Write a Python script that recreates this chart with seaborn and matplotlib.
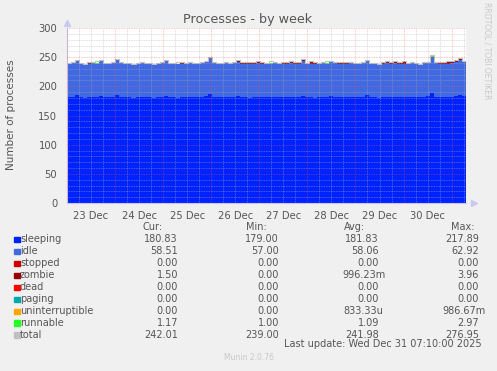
import numpy as np
import matplotlib
matplotlib.use("Agg")
import matplotlib.pyplot as plt
from matplotlib.patches import Rectangle
import seaborn as sns

# munin processes graph, one sample every ~2h from 23 Dec 00:00 to 31 Dec 07:10
sleeping = [181, 182, 185, 181, 180, 181, 182, 181, 184, 181,
            181, 182, 185, 182, 181, 181, 180, 181, 182, 181,
            181, 180, 181, 182, 184, 181, 181, 180, 181, 181,
            182, 181, 181, 182, 184, 187, 182, 181, 181, 182,
            181, 182, 184, 181, 181, 180, 181, 182, 181, 181,
            181, 182, 181, 181, 181, 182, 181, 181, 184, 181,
            181, 180, 181, 182, 181, 184, 182, 181, 181, 181,
            182, 181, 181, 182, 185, 181, 181, 180, 181, 182,
            181, 182, 181, 181, 181, 182, 181, 181, 182, 183,
            189, 182, 181, 181, 181, 182, 184, 186, 183, 181]
idle = [58, 58, 59, 58, 58, 58, 58, 58, 59, 58,
        58, 58, 60, 58, 58, 58, 58, 58, 58, 58,
        58, 58, 58, 58, 59, 58, 58, 58, 58, 58,
        58, 58, 58, 58, 58, 61, 58, 58, 58, 58,
        58, 58, 58, 58, 57, 58, 58, 58, 58, 58,
        58, 58, 58, 57, 58, 58, 58, 58, 59, 58,
        58, 58, 58, 58, 58, 58, 58, 58, 57, 58,
        58, 58, 58, 58, 59, 58, 58, 58, 58, 58,
        58, 58, 58, 58, 58, 58, 58, 57, 58, 58,
        62, 58, 58, 58, 58, 58, 58, 59, 58, 58]
stopped = [0] * 100
zombie = [0, 0, 0, 0, 0, 1, 0, 0, 0, 0,
          0, 0, 0, 0, 0, 0, 0, 0, 0, 0,
          0, 0, 0, 0, 0, 0, 0, 0, 1, 0,
          0, 0, 0, 0, 0, 0, 0, 0, 0, 0,
          0, 0, 2, 2, 2, 2, 2, 2, 2, 0,
          0, 0, 0, 2, 2, 2, 2, 2, 2, 0,
          2, 2, 0, 0, 0, 0, 0, 2, 2, 2,
          0, 0, 0, 0, 0, 0, 0, 0, 2, 2,
          2, 2, 2, 2, 0, 0, 0, 0, 0, 0,
          0, 0, 2, 2, 3, 2, 2, 2, 2, 2]
dead = [0] * 100
paging = [0] * 100
uninterruptible = [0] * 60 + [1] + [0] * 39
runnable = [1, 1, 2, 1, 1, 1, 1, 1, 2, 1,
            1, 1, 2, 1, 1, 1, 1, 1, 1, 1,
            1, 1, 1, 1, 2, 1, 1, 1, 1, 1,
            1, 1, 1, 1, 1, 2, 1, 1, 1, 1,
            1, 1, 1, 1, 1, 1, 1, 1, 1, 1,
            1, 1, 1, 1, 1, 1, 1, 1, 2, 1,
            1, 1, 1, 1, 1, 1, 1, 1, 1, 1,
            1, 1, 1, 1, 2, 1, 1, 1, 1, 1,
            1, 1, 1, 1, 1, 1, 1, 1, 1, 1,
            3, 1, 1, 1, 1, 1, 2, 2, 1, 1]
total = [240, 241, 246, 240, 239, 241, 241, 243, 245, 240,
         240, 241, 247, 241, 240, 240, 239, 240, 241, 240,
         240, 239, 240, 241, 245, 240, 240, 241, 241, 240,
         241, 240, 240, 241, 243, 250, 241, 240, 240, 241,
         240, 241, 245, 242, 241, 241, 242, 243, 242, 240,
         243, 241, 240, 241, 242, 243, 242, 242, 247, 240,
         243, 241, 240, 241, 243, 243, 241, 242, 241, 242,
         241, 240, 240, 241, 246, 240, 240, 239, 242, 243,
         242, 243, 242, 244, 240, 241, 240, 239, 241, 242,
         254, 241, 242, 242, 243, 243, 246, 249, 244, 242]

day_labels = ["23 Dec", "24 Dec", "25 Dec", "26 Dec", "27 Dec", "28 Dec", "29 Dec", "30 Dec"]
series_names = ["sleeping", "idle", "stopped", "zombie", "dead", "paging",
                "uninterruptible", "runnable", "total"]
series_colors = ["#0022ff", "#4169e1", "#cc0000", "#990000", "#ff0000", "#00aaaa",
                 "#ffa500", "#22ff22", "#c0c0c0"]
cur_vals = ["180.83", "58.51", "0.00", "1.50", "0.00", "0.00", "0.00", "1.17", "242.01"]
min_vals = ["179.00", "57.00", "0.00", "0.00", "0.00", "0.00", "0.00", "1.00", "239.00"]
avg_vals = ["181.83", "58.06", "0.00", "996.23m", "0.00", "0.00", "833.33u", "1.09", "241.98"]
max_vals = ["217.89", "62.92", "0.00", "3.96", "0.00", "0.00", "986.67m", "2.97", "276.95"]

W, H = 497, 371
END = 8 + 7.17 / 24  # days after 23 Dec 00:00
TXT = "#555555"


def fx(x):
    return x / W


def fy(y):
    return 1 - y / H


sns.set_theme(style="white")
plt.rcParams["font.family"] = ["DejaVu Sans"]

fig = plt.figure(figsize=(W / 100, H / 100), dpi=100, facecolor="#f0f0f0")
ax = fig.add_axes([fx(67), fy(203), fx(399), 175 / H])
ax.set_facecolor("white")

x = np.linspace(0, END, len(sleeping))
stack = [sleeping, idle, stopped, zombie, dead, paging, uninterruptible, runnable]
ax.stackplot(x, *stack, colors=series_colors[:8], step="post", linewidth=0)
sns.lineplot(x=x, y=total, ax=ax, color=series_colors[8], linewidth=0.8,
             drawstyle="steps-post", zorder=2)

ax.set_xlim(0, END)
ax.set_ylim(0, 300)
ax.set_yticks(np.arange(0, 301, 50))
ax.set_yticks(np.arange(0, 301, 10), minor=True)
ax.set_xticks(np.arange(0, 9))
ax.set_xticklabels([])
minor_pos, minor_lab = [], []
for d, lab in enumerate(day_labels + [""]):
    for h, txt in ((0.25, ""), (0.5, lab), (0.75, "")):
        if d + h < END:
            minor_pos.append(d + h)
            minor_lab.append(txt)
ax.set_xticks(minor_pos, minor_lab, minor=True)

ax.set_axisbelow(False)
ax.grid(which="minor", color="#b0b0b0", alpha=0.55, linestyle=(0, (1, 1)), linewidth=0.6)
ax.grid(which="major", color="#ff5050", alpha=0.45, linestyle=(0, (1, 1)), linewidth=0.6)
ax.tick_params(axis="y", which="major", labelsize=7.2, labelcolor=TXT, length=2,
               color="#ff8080", pad=5)
ax.tick_params(axis="y", which="minor", length=1.5, color="#b0b0b0")
ax.tick_params(axis="x", which="minor", labelsize=7.2, labelcolor=TXT, length=2,
               color="#b0b0b0", pad=4)
ax.tick_params(axis="x", which="major", length=2.5, color="#ff8080")
for s in ("top", "right"):
    ax.spines[s].set_visible(False)
for s in ("left", "bottom"):
    ax.spines[s].set_color("#c8c8f0")
    ax.spines[s].set_linewidth(0.8)
ax.plot([0], [1.03], marker="^", color="#c8c8f0", markersize=4, transform=ax.transAxes, clip_on=False)
ax.plot([1.02], [0], marker=">", color="#c8c8f0", markersize=4, transform=ax.transAxes, clip_on=False)

fig.text(fx(248), fy(20), "Processes - by week", ha="center", va="center", fontsize=9.2, color=TXT)
fig.text(fx(11), fy(115), "Number of processes", rotation=90, ha="center", va="center",
         fontsize=7.5, color=TXT)
fig.text(fx(487), fy(51), "RRDTOOL / TOBI OETIKER", rotation=270, ha="center", va="center",
         fontsize=5.5, color="#c8c8c8")

# legend table
fs = 7.0
for lab, rx in (("Cur:", 163), ("Min:", 267), ("Avg:", 365), ("Max:", 475)):
    fig.text(fx(rx), fy(227), lab, ha="right", va="center", fontsize=fs, color=TXT)
for k, name in enumerate(series_names):
    y = 239.5 + k * 11.95
    fig.patches.append(Rectangle((fx(14), fy(y + 2.8)), fx(5.5), 5.5 / H,
                                 transform=fig.transFigure, color=series_colors[k]))
    fig.text(fx(20), fy(y), name, ha="left", va="center", fontsize=fs, color=TXT)
    for vals, rx in ((cur_vals, 178), (min_vals, 279), (avg_vals, 379), (max_vals, 479)):
        v = vals[k]
        shift = {"m": 7, "u": 4}.get(v[-1], 0)
        fig.text(fx(rx + shift), fy(y), v, ha="right", va="center", fontsize=fs, color=TXT)

fig.text(fx(482), fy(344), "Last update: Wed Dec 31 07:10:00 2025", ha="right", va="center",
         fontsize=fs, color=TXT)
fig.text(fx(249), fy(358), "Munin 2.0.76", ha="center", va="center", fontsize=5.5, color="#c8c8c8")

fig.savefig("out.png", dpi=100, facecolor=fig.get_facecolor())
